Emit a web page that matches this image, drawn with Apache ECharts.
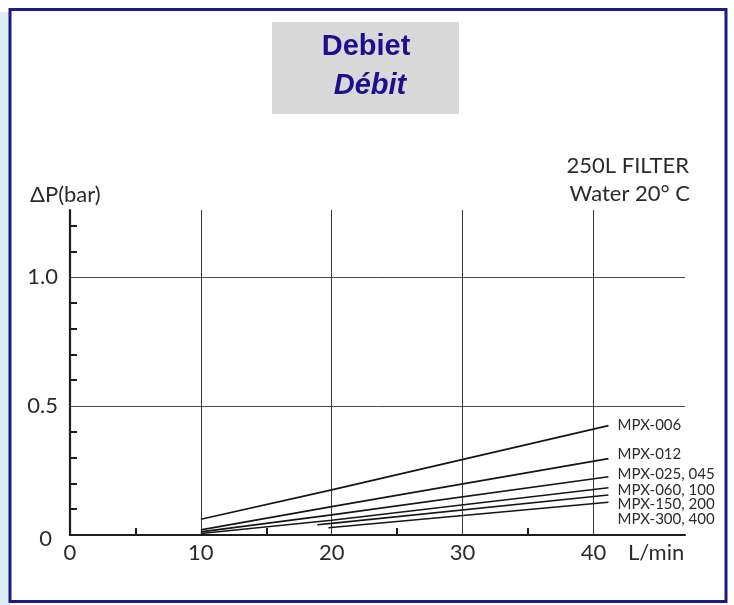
<!DOCTYPE html>
<html>
<head>
<meta charset="utf-8">
<script src="https://cdn.jsdelivr.net/npm/echarts@6/dist/echarts.min.js"></script>
<style>
html,body{margin:0;padding:0;background:#fff;}
#c{width:734px;height:605px;}
</style>
</head>
<body>
<div id="c"></div>
<script>
// ---- data ----
const seriesNames = ['MPX-006', 'MPX-012', 'MPX-025, 045', 'MPX-060, 100', 'MPX-150, 200', 'MPX-300, 400'];
const mpx006 = [[10, 0.061], [20, 0.175], [41.15, 0.424]];
const mpx012 = [[10, 0.020], [20, 0.110], [41.15, 0.296]];
const mpx025 = [[10, 0.012], [20, 0.078], [41.15, 0.226]];
const mpx060 = [[10, 0.006], [20, 0.057], [41.15, 0.183]];
const mpx150 = [[18.9, 0.040], [20, 0.045], [41.15, 0.155]];
const mpx300 = [[19.75, 0.028], [41.15, 0.127]];
const xLabelValues = [0, 10, 20, 30, 40];
const xMinorTicks = [5, 15, 25, 35];
const yLabelValues = [0, 0.5, 1.0];
const yMinorTicks = [0.1, 0.2, 0.3, 0.4, 0.6, 0.7, 0.8, 0.9, 1.1, 1.2];
const xMax = 47, yMax = 1.26;

const allSeries = [mpx006, mpx012, mpx025, mpx060, mpx150, mpx300];
const labelDy = [0, -4, -3, 2, 9, 17];

const FONT = 'Lato';
const TXT = '#2b2b2b';
const chart = echarts.init(document.getElementById('c'), null, {renderer: 'canvas'});

chart.setOption({
  backgroundColor: '#ffffff',
  animation: false,
  grid: {left: 70, right: 49, top: 210, bottom: 70, containLabel: false, outerBoundsMode: 'none'},
  xAxis: [
    {
      type: 'value', min: 0, max: xMax, interval: 5, position: 'bottom',
      axisLine: {show: true, onZero: false, lineStyle: {color: '#1e1e1e', width: 2.2}},
      axisTick: {show: true, inside: true, length: 7, customValues: xMinorTicks, lineStyle: {color: '#1e1e1e', width: 2}},
      axisLabel: {show: true, customValues: xLabelValues, margin: 7, fontFamily: FONT, fontSize: 22, color: TXT},
      splitLine: {show: false}
    },
    {
      type: 'value', min: 0, max: xMax, interval: 10, position: 'bottom',
      axisLine: {show: false}, axisTick: {show: false}, axisLabel: {show: false},
      splitLine: {show: true, showMinLine: false, showMaxLine: false, lineStyle: {color: '#3a3a3a', width: 1}}
    }
  ],
  yAxis: [
    {
      type: 'value', min: 0, max: yMax, interval: 0.1, position: 'left',
      axisLine: {show: true, onZero: false, lineStyle: {color: '#1e1e1e', width: 2.2}},
      axisTick: {show: true, inside: true, length: 7, customValues: yMinorTicks, lineStyle: {color: '#1e1e1e', width: 2}},
      axisLabel: {
        show: true, customValues: yLabelValues, margin: 12, fontFamily: FONT, fontSize: 22, color: TXT,
        formatter: v => (v === 0 ? '{z|0}' : v.toFixed(1)),
        rich: {z: {fontFamily: FONT, fontSize: 22, color: TXT, padding: [8, 6, 0, 0]}}
      },
      splitLine: {show: false}
    },
    {
      type: 'value', min: 0, max: yMax, interval: 0.5, position: 'left',
      axisLine: {show: false}, axisTick: {show: false}, axisLabel: {show: false},
      splitLine: {show: true, showMinLine: false, showMaxLine: false, lineStyle: {color: '#4a4a4a', width: 1}}
    }
  ],
  series: allSeries.map((d, i) => ({
    name: seriesNames[i],
    type: 'line',
    xAxisIndex: 0, yAxisIndex: 0,
    data: d,
    symbol: 'none',
    lineStyle: {color: '#151515', width: 1.6},
    endLabel: {
      show: true, formatter: seriesNames[i], distance: 9, offset: [0, labelDy[i]],
      fontFamily: FONT, fontSize: 15, color: TXT
    },
    z: 5
  })),
  graphic: [
    {type: 'rect', z: -10, shape: {x: 0, y: 12, width: 10, height: 593}, style: {fill: '#dbeff5'}},
    {type: 'rect', z: -5, shape: {x: 10, y: 9.5, width: 716, height: 592}, style: {fill: '#ffffff', stroke: '#1d1a84', lineWidth: 3}},
    {type: 'rect', z: -4, shape: {x: 272, y: 22, width: 187, height: 92}, style: {fill: '#d9d9d9'}},
    {type: 'text', z: 10, x: 366, y: 47, style: {text: 'Debiet', fontFamily: 'Liberation Sans', fontWeight: 'bold', fontSize: 29, fill: '#1f0f8c', align: 'center', verticalAlign: 'middle'}},
    {type: 'text', z: 10, x: 370, y: 86, style: {text: 'Débit', fontFamily: 'Liberation Sans', fontWeight: 'bold', fontStyle: 'italic', fontSize: 29, fill: '#1f0f8c', align: 'center', verticalAlign: 'middle'}},
    {type: 'text', z: 10, x: 689, y: 166, style: {text: '250L FILTER', fontFamily: FONT, fontSize: 22, fill: TXT, align: 'right', verticalAlign: 'middle'}},
    {type: 'text', z: 10, x: 690, y: 194, style: {text: 'Water 20° C', fontFamily: FONT, fontSize: 22, fill: TXT, align: 'right', verticalAlign: 'middle'}},
    {type: 'text', z: 10, x: 30, y: 195, style: {text: 'ΔP(bar)', fontFamily: FONT, fontSize: 22, fill: TXT, align: 'left', verticalAlign: 'middle'}},
    {type: 'text', z: 10, x: 628, y: 553, style: {text: 'L/min', fontFamily: FONT, fontSize: 22, fill: TXT, align: 'left', verticalAlign: 'middle'}}
  ]
});
</script>
</body>
</html>
